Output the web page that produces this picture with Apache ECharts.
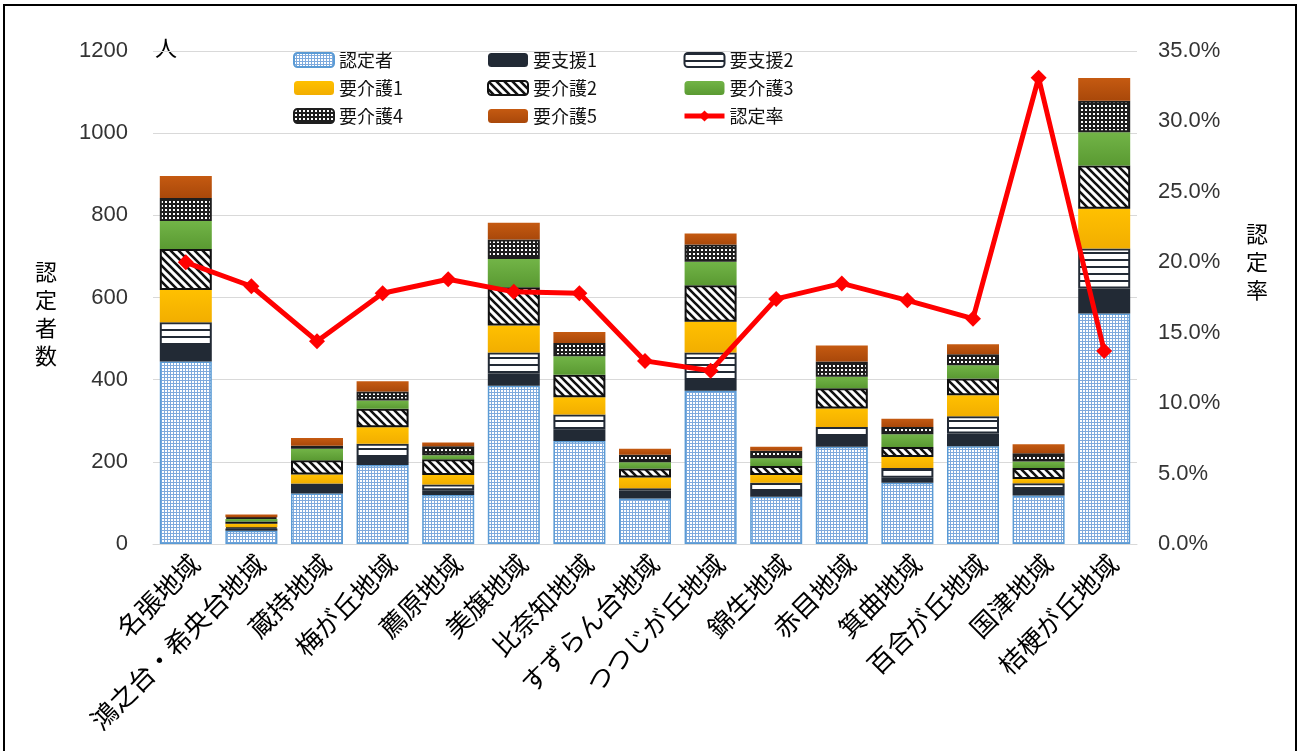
<!DOCTYPE html>
<html>
<head>
<meta charset="utf-8">
<script src="https://cdn.jsdelivr.net/npm/echarts@6/dist/echarts.min.js"></script>
<style>
html,body{margin:0;padding:0;background:#fff;}
#chart{width:1301px;height:751px;}
</style>
</head>
<body>
<div id="chart"></div>
<script>
const categories = ['名張地域','鴻之台・希央台地域','蔵持地域','梅が丘地域','薦原地域','美旗地域','比奈知地域','すずらん台地域','つつじが丘地域','錦生地域','赤目地域','箕曲地域','百合が丘地域','国津地域','桔梗が丘地域'];
const nintei    = [444, 32, 123, 192, 119, 385, 251, 111, 373, 115, 237, 149, 238, 118, 561];
const shien1    = [38, 6, 16, 20, 12, 30, 27, 19, 26, 14, 26, 12, 31, 16, 61];
const shien2    = [58, 3, 8, 32, 14, 51, 37, 6, 67, 20, 22, 24, 42, 14, 97];
const kaigo1    = [78, 8, 22, 40, 23, 66, 42, 26, 75, 19, 45, 27, 51, 10, 97];
const kaigo2    = [100, 6, 35, 45, 38, 93, 55, 22, 89, 22, 49, 24, 41, 27, 105];
const kaigo3    = [68, 6, 28, 20, 10, 69, 45, 15, 57, 19, 28, 31, 32, 16, 81];
const kaigo4    = [56, 4, 7, 22, 22, 47, 32, 18, 42, 18, 37, 18, 27, 20, 77];
const kaigo5    = [54, 7, 19, 25, 9, 41, 27, 15, 27, 10, 39, 20, 24, 22, 55];
const rate      = [20.0, 18.3, 14.4, 17.8, 18.8, 17.9, 17.8, 13.0, 12.3, 17.4, 18.5, 17.3, 16.0, 33.1, 13.7];
const leftTicks = [0, 200, 400, 600, 800, 1000, 1200];
const rightTicks = [0, 5, 10, 15, 20, 25, 30, 35];

function makePattern(w, h, draw) {
  const c = document.createElement('canvas');
  c.width = w; c.height = h;
  const ctx = c.getContext('2d');
  draw(ctx, w, h);
  return { image: c, repeat: 'repeat' };
}
const patBlue = makePattern(3, 3, (ctx) => {
  ctx.fillStyle = '#7eaadd'; ctx.fillRect(0, 0, 3, 3);
  ctx.fillStyle = '#ffffff'; ctx.fillRect(0, 0, 2, 2);
});
const patHoriz = makePattern(4, 7, (ctx) => {
  ctx.fillStyle = '#ffffff'; ctx.fillRect(0, 0, 4, 7);
  ctx.fillStyle = '#222a35'; ctx.fillRect(0, 0, 4, 2);
});
const patDiag = makePattern(8, 8, (ctx) => {
  ctx.fillStyle = '#ffffff'; ctx.fillRect(0, 0, 8, 8);
  ctx.strokeStyle = '#111111'; ctx.lineWidth = 2.6;
  ctx.beginPath();
  ctx.moveTo(-4, -4); ctx.lineTo(12, 12);
  ctx.moveTo(-4, 4); ctx.lineTo(4, 12);
  ctx.moveTo(4, -4); ctx.lineTo(12, 4);
  ctx.stroke();
});
const patDots = makePattern(4, 4, (ctx) => {
  ctx.fillStyle = '#1e1e1e'; ctx.fillRect(0, 0, 4, 4);
  ctx.fillStyle = '#ffffff'; ctx.fillRect(1, 1, 2, 2);
});
const grad = (a, b) => new echarts.graphic.LinearGradient(0, 0, 0, 1, [{offset: 0, color: a}, {offset: 1, color: b}]);

const FONT = '"Noto Sans CJK JP", "Noto Sans", sans-serif';
const NUMFONT = '"Liberation Sans", sans-serif';
const barW = 52;
function barSeries(name, data, itemStyle) {
  return { name, type: 'bar', stack: 'total', data, barWidth: barW, itemStyle, emphasis: {disabled: true}, z: 2 };
}
const legendBase = { orient: 'vertical', top: 50, padding: 0, itemWidth: 40, itemHeight: 14, itemGap: 8,
  textStyle: { fontSize: 18, lineHeight: 20, color: '#111', fontFamily: FONT } };

const chart = echarts.init(document.getElementById('chart'), null, {renderer: 'canvas'});
chart.setOption({
  animation: false,
  backgroundColor: '#ffffff',
  textStyle: { fontFamily: FONT },
  grid: { left: 153, right: 164, top: 51, bottom: 207, containLabel: false },
  legend: [
    Object.assign({}, legendBase, { left: 293, data: ['認定者', '要介護1', '要介護4'] }),
    Object.assign({}, legendBase, { left: 487, data: ['要支援1', '要介護2', '要介護5'] }),
    Object.assign({}, legendBase, { left: 682, data: ['要支援2', '要介護3',
      { name: '認定率', lineStyle: { width: 5, color: '#ff0000' }, itemStyle: { color: '#ff0000' } }] })
  ],
  xAxis: {
    type: 'category', data: categories,
    axisLine: { lineStyle: { color: '#d9d9d9', width: 1 } },
    axisTick: { show: false },
    axisLabel: { rotate: 45, fontSize: 26, color: '#000', fontFamily: FONT, margin: 6, interval: 0, verticalAlign: 'top' }
  },
  yAxis: [
    { type: 'value', min: leftTicks[0], max: leftTicks[leftTicks.length - 1], interval: leftTicks[1] - leftTicks[0],
      axisLine: { show: false }, axisTick: { show: false },
      splitLine: { lineStyle: { color: '#d9d9d9', width: 1 } },
      axisLabel: { fontSize: 22, color: '#333', margin: 25, fontFamily: NUMFONT, formatter: (v) => String(v) } },
    { type: 'value', min: rightTicks[0], max: rightTicks[rightTicks.length - 1], interval: rightTicks[1] - rightTicks[0],
      axisLine: { show: false }, axisTick: { show: false }, splitLine: { show: false },
      axisLabel: { fontSize: 22, color: '#333', margin: 21, fontFamily: NUMFONT,
        formatter: (v) => v.toFixed(1) + '%' } }
  ],
  graphic: [
    { type: 'rect', shape: { x: 4, y: 5, width: 1292, height: 800 }, style: { fill: 'none', stroke: '#000', lineWidth: 2 }, z: 100, silent: true },
    { type: 'text', left: 155, top: 37, style: { text: '人', font: '22px ' + FONT, fill: '#000' } },
    { type: 'text', left: 35, top: 258, style: { text: '認\n定\n者\n数', font: '22px ' + FONT, lineHeight: 28, fill: '#000' } },
    { type: 'text', left: 1246, top: 220, style: { text: '認\n定\n率', font: '22px ' + FONT, lineHeight: 28, fill: '#000' } }
  ],
  series: [
    barSeries('認定者', nintei, { color: patBlue, borderColor: '#5b9bd5', borderWidth: 1.5 }),
    barSeries('要支援1', shien1, { color: '#222a35' }),
    barSeries('要支援2', shien2, { color: patHoriz, borderColor: '#222a35', borderWidth: 2 }),
    barSeries('要介護1', kaigo1, { color: grad('#ffc000', '#f2ae00') }),
    barSeries('要介護2', kaigo2, { color: patDiag, borderColor: '#111', borderWidth: 2 }),
    barSeries('要介護3', kaigo3, { color: grad('#72b447', '#5a9a32') }),
    barSeries('要介護4', kaigo4, { color: patDots, borderColor: '#1e1e1e', borderWidth: 2 }),
    barSeries('要介護5', kaigo5, { color: grad('#c55a11', '#a9480a') }),
    { name: '認定率', type: 'line', yAxisIndex: 1, data: rate, z: 5,
      symbol: 'diamond', symbolSize: 16,
      lineStyle: { color: '#ff0000', width: 5 },
      itemStyle: { color: '#ff0000' },
      emphasis: { disabled: true } }
  ]
});
</script>
</body>
</html>
